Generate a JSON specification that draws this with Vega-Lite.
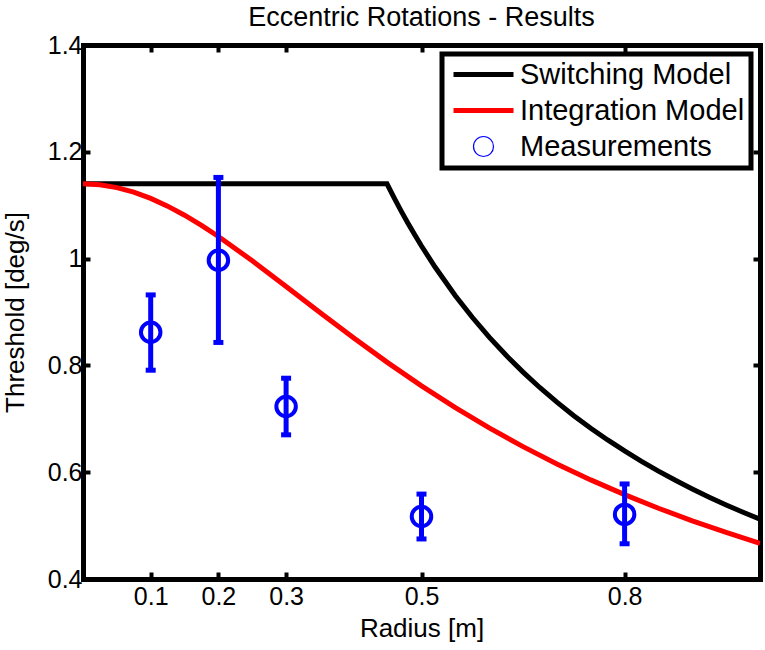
{
  "$schema": "https://vega.github.io/schema/vega-lite/v6.json",
  "autosize": {"type": "none"},
  "width": 677,
  "height": 534,
  "padding": {"left": 83, "top": 45, "right": 5, "bottom": 71},
  "background": "white",
  "title": {"text": "Eccentric Rotations - Results", "font": "Liberation Sans", "fontSize": 27, "fontWeight": "normal", "color": "black", "offset": 1, "anchor": "middle"},
  "config": {
    "view": {"stroke": null},
    "axis": {
      "labelFont": "Liberation Sans", "labelFontSize": 25, "labelColor": "black",
      "titleFont": "Liberation Sans", "titleFontSize": 26, "titleFontWeight": "normal", "titleColor": "black",
      "domainColor": "black", "domainWidth": 5, "domainCap": "square",
      "tickColor": "black", "tickWidth": 4, "tickSize": -7,
      "grid": false, "zindex": 1, "labelFlush": false, "labelOverlap": false, "labelBound": false
    },
    "legend": {
      "orient": "top-right", "offset": 9,
      "labelFont": "Liberation Sans", "labelFontSize": 29, "labelColor": "black",
      "strokeColor": "black", "fillColor": "white", "padding": 6,
      "symbolSize": 400, "rowPadding": 6, "labelOffset": 22, "symbolOffset": 21, "labelLimit": 400
    }
  },
  "datasets": {
    "curves": [
      {"series": "Switching Model", "r": 0.0, "thr": 1.14},
      {"series": "Switching Model", "r": 0.449, "thr": 1.14},
      {"series": "Switching Model", "r": 0.46, "thr": 1.1126},
      {"series": "Switching Model", "r": 0.47, "thr": 1.0889},
      {"series": "Switching Model", "r": 0.48, "thr": 1.0663},
      {"series": "Switching Model", "r": 0.49, "thr": 1.0445},
      {"series": "Switching Model", "r": 0.5, "thr": 1.0236},
      {"series": "Switching Model", "r": 0.52, "thr": 0.9842},
      {"series": "Switching Model", "r": 0.55, "thr": 0.9305},
      {"series": "Switching Model", "r": 0.575, "thr": 0.8901},
      {"series": "Switching Model", "r": 0.6, "thr": 0.853},
      {"series": "Switching Model", "r": 0.625, "thr": 0.8189},
      {"series": "Switching Model", "r": 0.65, "thr": 0.7874},
      {"series": "Switching Model", "r": 0.675, "thr": 0.7582},
      {"series": "Switching Model", "r": 0.7, "thr": 0.7311},
      {"series": "Switching Model", "r": 0.725, "thr": 0.7059},
      {"series": "Switching Model", "r": 0.75, "thr": 0.6824},
      {"series": "Switching Model", "r": 0.775, "thr": 0.6604},
      {"series": "Switching Model", "r": 0.8, "thr": 0.6398},
      {"series": "Switching Model", "r": 0.825, "thr": 0.6204},
      {"series": "Switching Model", "r": 0.85, "thr": 0.6021},
      {"series": "Switching Model", "r": 0.875, "thr": 0.5849},
      {"series": "Switching Model", "r": 0.9, "thr": 0.5687},
      {"series": "Switching Model", "r": 0.925, "thr": 0.5533},
      {"series": "Switching Model", "r": 0.95, "thr": 0.5387},
      {"series": "Switching Model", "r": 0.975, "thr": 0.5249},
      {"series": "Switching Model", "r": 1.0, "thr": 0.5118},
      {"series": "Integration Model", "r": 0.0, "thr": 1.14},
      {"series": "Integration Model", "r": 0.025, "thr": 1.1382},
      {"series": "Integration Model", "r": 0.05, "thr": 1.133},
      {"series": "Integration Model", "r": 0.075, "thr": 1.1244},
      {"series": "Integration Model", "r": 0.1, "thr": 1.1127},
      {"series": "Integration Model", "r": 0.125, "thr": 1.0982},
      {"series": "Integration Model", "r": 0.15, "thr": 1.0813},
      {"series": "Integration Model", "r": 0.175, "thr": 1.0622},
      {"series": "Integration Model", "r": 0.2, "thr": 1.0414},
      {"series": "Integration Model", "r": 0.25, "thr": 0.996},
      {"series": "Integration Model", "r": 0.3, "thr": 0.9479},
      {"series": "Integration Model", "r": 0.35, "thr": 0.8991},
      {"series": "Integration Model", "r": 0.4, "thr": 0.8512},
      {"series": "Integration Model", "r": 0.45, "thr": 0.8052},
      {"series": "Integration Model", "r": 0.5, "thr": 0.7617},
      {"series": "Integration Model", "r": 0.55, "thr": 0.7209},
      {"series": "Integration Model", "r": 0.6, "thr": 0.683},
      {"series": "Integration Model", "r": 0.65, "thr": 0.6479},
      {"series": "Integration Model", "r": 0.7, "thr": 0.6155},
      {"series": "Integration Model", "r": 0.75, "thr": 0.5856},
      {"series": "Integration Model", "r": 0.8, "thr": 0.558},
      {"series": "Integration Model", "r": 0.85, "thr": 0.5325},
      {"series": "Integration Model", "r": 0.9, "thr": 0.5089},
      {"series": "Integration Model", "r": 0.95, "thr": 0.4871},
      {"series": "Integration Model", "r": 1.0, "thr": 0.4669}
    ],
    "meas": [
      {"series": "Measurements", "r": 0.1, "thr": 0.862, "lo": 0.791, "hi": 0.932},
      {"series": "Measurements", "r": 0.2, "thr": 0.997, "lo": 0.843, "hi": 1.152},
      {"series": "Measurements", "r": 0.3, "thr": 0.723, "lo": 0.67, "hi": 0.776},
      {"series": "Measurements", "r": 0.5, "thr": 0.517, "lo": 0.475, "hi": 0.559},
      {"series": "Measurements", "r": 0.8, "thr": 0.521, "lo": 0.466, "hi": 0.578}
    ]
  },
  "layer": [
    {
      "data": {"name": "curves"},
      "mark": {"type": "line", "strokeWidth": 5, "clip": true},
      "encoding": {
        "x": {"field": "r", "type": "quantitative", "scale": {"domain": [0, 1], "nice": false, "zero": false},
              "axis": {"orient": "bottom", "values": [0.1, 0.2, 0.3, 0.5, 0.8], "format": "~g", "title": "Radius [m]", "labelPadding": 12, "titlePadding": 6}},
        "y": {"field": "thr", "type": "quantitative", "scale": {"domain": [0.4, 1.4], "nice": false, "zero": false},
              "axis": {"orient": "left", "values": [0.4, 0.6, 0.8, 1, 1.2, 1.4], "format": "~g", "title": "Threshold [deg/s]", "labelPadding": 8, "titlePadding": 19}},
        "color": {"field": "series", "type": "nominal",
                  "scale": {"domain": ["Switching Model", "Integration Model", "Measurements"], "range": ["#000000", "#ff0000", "#0000ff"]},
                  "legend": {"title": null,
                    "encode": {
                      "legend": {"update": {"strokeWidth": {"value": 5}}},
                      "symbols": {"update": {
                        "shape": {"signal": "datum.value === 'Measurements' ? 'circle' : 'M-3,0H3'"},
                        "size": {"value": 400},
                        "strokeWidth": {"signal": "datum.value === 'Measurements' ? 1.2 : 5"},
                        "stroke": {"scale": "color", "field": "value"},
                        "fill": {"value": "transparent"},
                        "opacity": {"value": 1}
                      }}
                    }}},
        "order": {"field": "r", "type": "quantitative"}
      }
    },
    {
      "data": {"name": "meas"},
      "mark": {"type": "rule", "strokeWidth": 5, "color": "#0000ff"},
      "encoding": {
        "x": {"field": "r", "type": "quantitative", "axis": null},
        "y": {"field": "lo", "type": "quantitative", "axis": null},
        "y2": {"field": "hi"}
      }
    },
    {
      "data": {"name": "meas"},
      "mark": {"type": "tick", "orient": "horizontal", "size": 10, "thickness": 5, "color": "#0000ff", "opacity": 1},
      "encoding": {
        "x": {"field": "r", "type": "quantitative", "axis": null},
        "y": {"field": "lo", "type": "quantitative", "axis": null}
      }
    },
    {
      "data": {"name": "meas"},
      "mark": {"type": "tick", "orient": "horizontal", "size": 10, "thickness": 5, "color": "#0000ff", "opacity": 1},
      "encoding": {
        "x": {"field": "r", "type": "quantitative", "axis": null},
        "y": {"field": "hi", "type": "quantitative", "axis": null}
      }
    },
    {
      "data": {"name": "meas"},
      "mark": {"type": "point", "filled": false, "size": 380, "strokeWidth": 4, "opacity": 1},
      "encoding": {
        "x": {"field": "r", "type": "quantitative",
              "axis": {"orient": "top", "values": [0.1, 0.2, 0.3, 0.5, 0.8], "labels": false, "title": null}},
        "y": {"field": "thr", "type": "quantitative",
              "axis": {"orient": "right", "values": [0.4, 0.6, 0.8, 1, 1.2, 1.4], "labels": false, "title": null}},
        "color": {"field": "series", "type": "nominal",
                  "scale": {"domain": ["Switching Model", "Integration Model", "Measurements"], "range": ["#000000", "#ff0000", "#0000ff"]},
                  "legend": {"title": null,
                    "encode": {
                      "legend": {"update": {"strokeWidth": {"value": 5}}},
                      "symbols": {"update": {
                        "shape": {"signal": "datum.value === 'Measurements' ? 'circle' : 'M-3,0H3'"},
                        "size": {"value": 400},
                        "strokeWidth": {"signal": "datum.value === 'Measurements' ? 1.2 : 5"},
                        "stroke": {"scale": "color", "field": "value"},
                        "fill": {"value": "transparent"},
                        "opacity": {"value": 1}
                      }}
                    }}}
      }
    }
  ],
  "resolve": {"axis": {"x": "independent", "y": "independent"}}
}
